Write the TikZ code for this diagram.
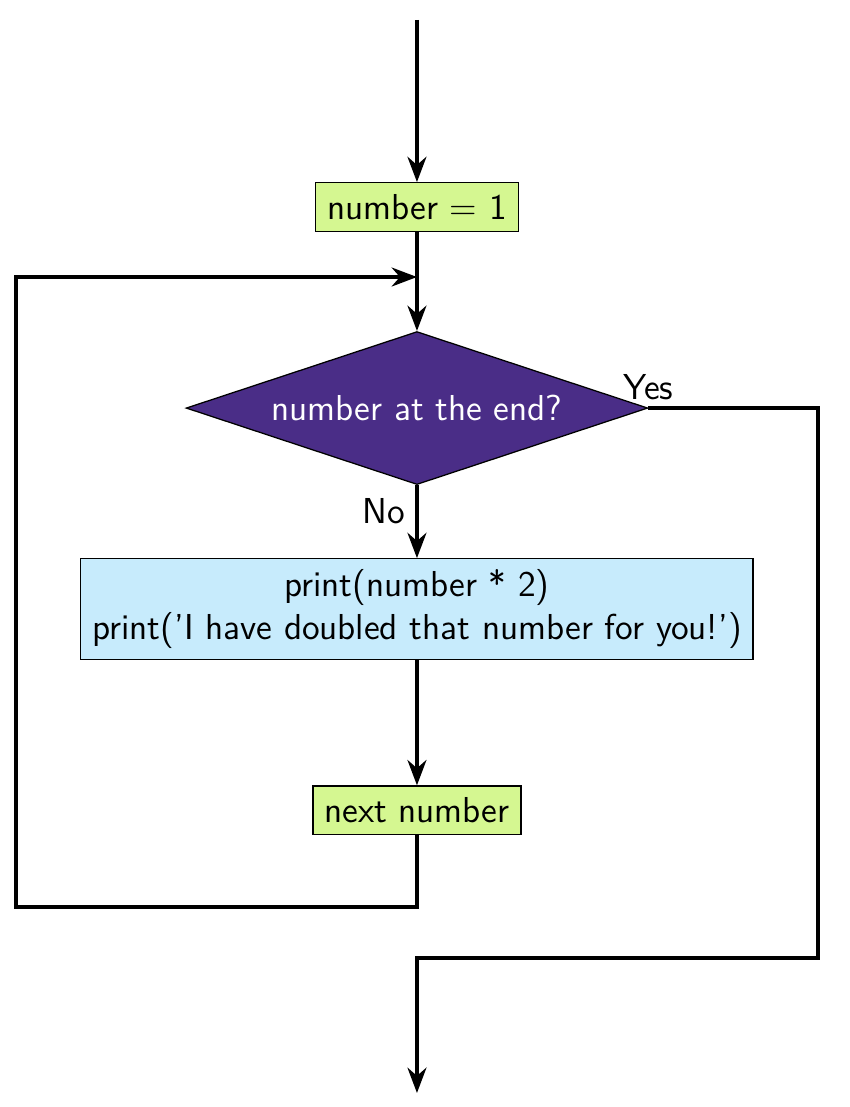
\documentclass[tikz,border=0pt]{standalone}
\usetikzlibrary{positioning,shapes.geometric,arrows.meta}
\definecolor{stepgreen}{RGB}{213,247,145}
\definecolor{bodyblue}{RGB}{199,235,252}
\definecolor{askpurple}{RGB}{74,45,135}
\begin{document}
\begin{tikzpicture} [font=\sffamily\fontsize{11.4}{13.8}\selectfont, >={Stealth[length=8pt,width=6pt]},
        every node/.style = {align=center},
        greenbox/.style = {rectangle, draw, thin, fill=stepgreen, minimum height=0.54cm},
        bluebox/.style = {rectangle, draw, thin, fill=bodyblue, minimum width=7.47cm, minimum height=1.12cm},
        askbox/.style = {diamond, aspect=3.02, draw, thin, fill=askpurple, text=white, minimum width=5.13cm, minimum height=1.7cm, inner sep=0pt},
        flow/.style = {line width=1.1pt}]
        \useasboundingbox (-4.633,2.3) rectangle (4.811,-10.0);
        % \tikzstyle{every node}=[font=\small]
        \node [greenbox, minimum width=2.26cm] (init) at (0,0) {number = 1};
        \node [askbox, below=1.1cm of init] (ask) {number at the end?};
        \node [bluebox, below=0.81cm of ask] (body) {print(number * 2)\\print('I have doubled that number for you!')};
        \node [greenbox, minimum width=2.31cm, below=1.39cm of body] (next) {next number};

        \coordinate (start) at (0,2.078);
        \coordinate (join) at (0,-0.778);
        \coordinate (loopleft) at (-4.456,-7.778);
        \coordinate (yesright) at (4.456,-8.344);
        \coordinate (yesjoin) at (0,-8.344);
        \coordinate (finish) at (0,-9.844);

        \draw [flow, ->] (start) -- (init);
        \draw [flow, ->] (init) -- (ask);
        \draw [flow, ->] (ask) -- node [pos=0.36, left] {No} (body);
        \draw [flow, ->] (body) -- (next);
        \draw [flow, ->] (next) |- (loopleft) |- (join);
        \draw [flow, ->] (ask.east) node [above, inner sep=2pt] {Yes}
            -| (yesright) -- (yesjoin) -- (finish);


    \end{tikzpicture}
\end{document}
